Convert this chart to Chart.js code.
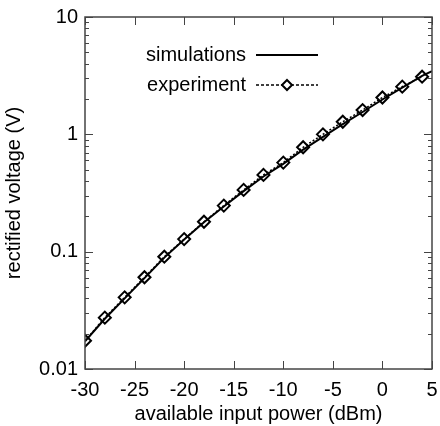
<!DOCTYPE html>
<html>
<head>
<meta charset="utf-8">
<script src="https://cdn.jsdelivr.net/npm/chart.js@4"></script>
<style>
  html, body { margin: 0; padding: 0; background: #fff; overflow: hidden; }
  #wrap { width: 440px; height: 426px; }
</style>
</head>
<body>
<div id="wrap"><canvas id="GraphJS"></canvas></div>
<script>
// ---- data ----
const powerExp = [-30, -28, -26, -24, -22, -20, -18, -16, -14, -12, -10, -8, -6, -4, -2, 0, 2, 4];
const voltExp  = [0.0174, 0.0274, 0.0408, 0.0605, 0.0906, 0.128, 0.180, 0.247, 0.336, 0.451, 0.574, 0.776, 1.00, 1.28, 1.61, 2.06, 2.55, 3.10];
const powerSim = [-30, -28, -26, -24, -22, -20, -18, -16, -14, -12, -10, -8, -6, -4, -2, 0, 2, 4, 5];
const voltSim  = [0.0172, 0.0268, 0.0400, 0.0595, 0.089, 0.127, 0.178, 0.243, 0.328, 0.437, 0.560, 0.74, 0.95, 1.22, 1.55, 1.98, 2.50, 3.15, 3.45];
const xTicks = [-30, -25, -20, -15, -10, -5, 0, 5];
const yMajor = [0.01, 0.1, 1, 10];

const FONT = 'Liberation Sans, Arial, Helvetica, sans-serif';
const frameColor = '#444';

// inward ticks, mirrored axes, frame and the in-plot key
const framePlugin = {
  id: 'frame',
  afterDraw(chart) {
    const { ctx, chartArea: a, scales } = chart;
    ctx.save();
    ctx.strokeStyle = frameColor;
    ctx.lineWidth = 1;
    ctx.beginPath();
    scales.x.ticks.forEach(t => {
      const px = Math.round(scales.x.getPixelForValue(t.value)) + 0.5;
      ctx.moveTo(px, a.bottom); ctx.lineTo(px, a.bottom - 8);
      ctx.moveTo(px, a.top); ctx.lineTo(px, a.top + 8);
    });
    scales.y.ticks.forEach(t => {
      const py = Math.round(scales.y.getPixelForValue(t.value)) + 0.5;
      const len = t.major ? 8 : 4;
      ctx.moveTo(a.left, py); ctx.lineTo(a.left + len, py);
      ctx.moveTo(a.right, py); ctx.lineTo(a.right - len, py);
    });
    ctx.stroke();
    ctx.lineWidth = 1.5;
    ctx.strokeRect(a.left, a.top, a.right - a.left, a.bottom - a.top);

    // key
    ctx.fillStyle = '#000';
    ctx.font = '20px ' + FONT;
    ctx.textAlign = 'right';
    ctx.textBaseline = 'middle';
    ctx.fillText('simulations', 246, 55);
    ctx.fillText('experiment', 246, 85);
    ctx.strokeStyle = '#000';
    ctx.lineWidth = 2;
    ctx.beginPath(); ctx.moveTo(256, 55); ctx.lineTo(318, 55); ctx.stroke();
    ctx.lineWidth = 1.5;
    ctx.setLineDash([3, 2]);
    ctx.beginPath(); ctx.moveTo(256, 85); ctx.lineTo(318, 85); ctx.stroke();
    ctx.setLineDash([]);
    ctx.lineWidth = 2;
    ctx.fillStyle = '#fff';
    ctx.beginPath();
    ctx.moveTo(287, 80); ctx.lineTo(292, 85); ctx.lineTo(287, 90); ctx.lineTo(282, 85); ctx.closePath();
    ctx.fill(); ctx.stroke();
    ctx.restore();
  }
};

const ctx = document.getElementById('GraphJS');
new Chart(ctx, {
  type: 'line',
  data: {
    datasets: [{
      label: 'simulations',
      data: powerSim.map((p, i) => ({ x: p, y: voltSim[i] })),
      borderColor: '#000',
      borderWidth: 2,
      pointRadius: 0,
      tension: 0
    }, {
      label: 'experiment',
      data: powerExp.map((p, i) => ({ x: p, y: voltExp[i] })),
      borderColor: '#000',
      borderWidth: 1.5,
      borderDash: [2, 2],
      pointStyle: 'rectRot',
      pointRadius: 6,
      pointBorderWidth: 2,
      pointBackgroundColor: 'rgba(255,255,255,0)',
      pointBorderColor: '#000',
      tension: 0
    }]
  },
  options: {
    responsive: true,
    maintainAspectRatio: false,
    animation: false,
    layout: { padding: { top: 17, right: -1, left: 2, bottom: 0 } },
    plugins: { legend: { display: false }, tooltip: { enabled: false } },
    scales: {
      x: {
        type: 'linear',
        min: -30,
        max: 5,
        afterBuildTicks: s => { s.ticks = xTicks.map(v => ({ value: v })); },
        afterFit: s => { s.height = 57; s.paddingLeft = 0; s.paddingRight = 0; },
        grid: { display: false, drawTicks: false },
        border: { display: false },
        ticks: { color: '#000', font: { family: FONT, size: 20 }, padding: 9, maxRotation: 0 },
        title: { display: true, text: 'available input power (dBm)', color: '#000', font: { family: FONT, size: 20 }, padding: { top: 0, bottom: 0 } }
      },
      y: {
        type: 'logarithmic',
        min: 0.01,
        max: 10,
        afterBuildTicks: s => {
          const t = [];
          yMajor.forEach(d => {
            for (let k = 1; k <= 9; k++) {
              const v = d * k;
              if (v <= 10 + 1e-9) t.push({ value: v, major: k === 1 });
            }
          });
          s.ticks = t;
        },
        afterFit: s => { s.width = 83; s.paddingTop = 0; s.paddingBottom = 0; },
        grid: { display: false, drawTicks: false },
        border: { display: false },
        ticks: {
          color: '#000',
          font: { family: FONT, size: 20 },
          padding: 7,
          autoSkip: false,
          callback: v => yMajor.some(d => Math.abs(d - v) < 1e-9) ? String(v) : ''
        },
        title: { display: true, text: 'rectified voltage (V)', color: '#000', font: { family: FONT, size: 20 }, padding: { top: 0, bottom: 2 } }
      }
    }
  },
  plugins: [framePlugin]
});
</script>
</body>
</html>
